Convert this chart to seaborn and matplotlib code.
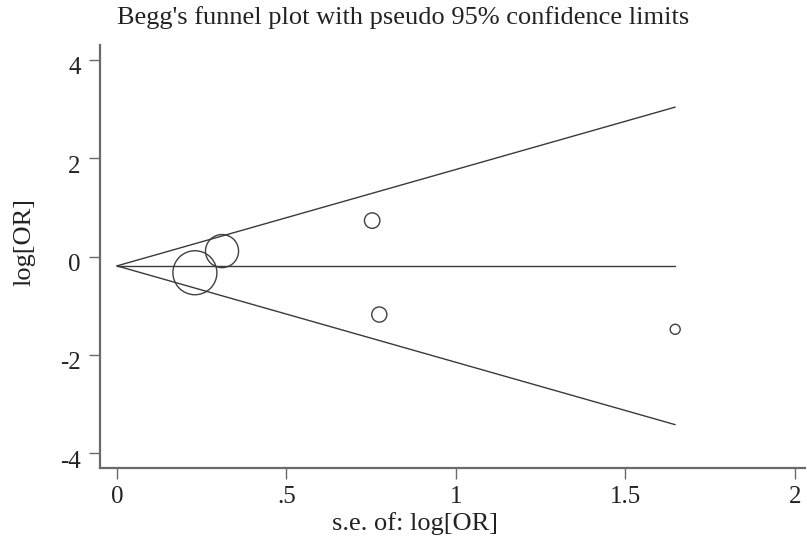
import numpy as np
import pandas as pd
import seaborn as sns
import matplotlib
matplotlib.use("Agg")
import matplotlib.pyplot as plt
import matplotlib.transforms as mtransforms

# Data
se = [0.23, 0.31, 0.753, 0.774, 1.647]
log_or = [-0.33, 0.11, 0.73, -1.18, -1.48]
x_ticks = [0, 0.5, 1, 1.5, 2]
x_tick_labels = ["0", ".5", "1", "1.5", "2"]
y_ticks = [-4, -2, 0, 2, 4]
y_tick_labels = ["-4", "-2", "0", "2", "4"]

df = pd.DataFrame({"se": se, "logor": log_or})
df["w"] = 1.0 / df["se"] ** 2
pooled = float(np.sum(df["w"] * df["logor"]) / np.sum(df["w"]))
se_max = float(df["se"].max())

sns.set_theme(style="white")
plt.rcParams["font.family"] = ["Liberation Serif", "DejaVu Serif"]

fig = plt.figure(figsize=(8.07, 5.47), dpi=100)
ax = fig.add_axes([100 / 807, 1 - 468 / 547, 705 / 807, 423 / 547])

lc = "#3a3a3a"
# funnel lines
ax.plot([0, se_max], [pooled, pooled], color=lc, lw=1.0)
ax.plot([0, se_max], [pooled, pooled + 1.96 * se_max], color=lc, lw=1.0)
ax.plot([0, se_max], [pooled, pooled - 1.96 * se_max], color=lc, lw=1.0)

sns.scatterplot(data=df, x="se", y="logor", size="w", sizes=(52, 1004),
                legend=False, ax=ax, marker="o", facecolor="none",
                edgecolor="#404040", linewidth=1.0)

ax.set_xlim(-0.05, 2.03)
ax.set_ylim(-4.3, 4.3)
ax.set_xticks(x_ticks)
ax.set_xticklabels(x_tick_labels)
ax.set_yticks(y_ticks)
ax.set_yticklabels(y_tick_labels)

for s in ["top", "right"]:
    ax.spines[s].set_visible(False)
for s in ["left", "bottom"]:
    ax.spines[s].set_color("#6a6a6a")
    ax.spines[s].set_linewidth(1.6)

ax.tick_params(axis="both", direction="out", length=8, width=1.0,
               color="#6a6a6a", labelsize=18, labelcolor="#222222",
               left=True, bottom=True, pad=5)
ax.tick_params(axis="y", pad=6)
shift = mtransforms.ScaledTranslation(0, -6 / 100, fig.dpi_scale_trans)
for lab in ax.get_yticklabels():
    lab.set_transform(lab.get_transform() + shift)
ax.set_xlabel("")
ax.set_ylabel("")

fig.text(0.5, 1 - 18 / 547, "Begg's funnel plot with pseudo 95% confidence limits",
         ha="center", va="center", fontsize=19, color="#222222")
fig.text(415 / 807, 1 - 524 / 547, "s.e. of: log[OR]", ha="center", va="center",
         fontsize=19, color="#222222")
fig.text(24 / 807, 1 - 242 / 547, "log[OR]", ha="center", va="center",
         rotation=90, fontsize=19, color="#222222")

fig.savefig("out.png", dpi=100, facecolor="white")
